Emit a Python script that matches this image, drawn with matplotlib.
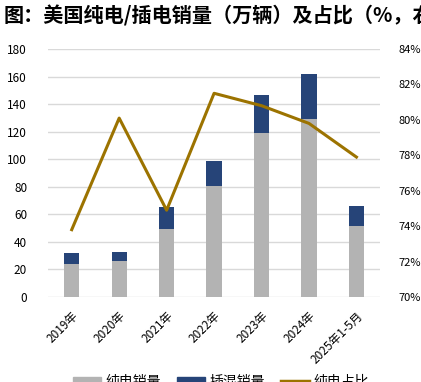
import matplotlib
matplotlib.use("Agg")
import matplotlib.pyplot as plt
import numpy as np
from matplotlib.patches import Patch
from matplotlib.lines import Line2D

plt.rcParams['font.family'] = ['Noto Sans CJK SC', 'DejaVu Sans']

categories = ["2019年", "2020年", "2021年", "2022年", "2023年", "2024年", "2025年1-5月"]
bev_sales = [24.0, 26.3, 49.3, 80.5, 118.8, 129.0, 51.8]
phev_sales = [8.2, 6.4, 16.2, 18.4, 28.0, 32.6, 14.5]
bev_share = [73.8, 80.1, 74.9, 81.5, 80.8, 79.8, 77.9]
left_ticks = [0, 20, 40, 60, 80, 100, 120, 140, 160, 180]
right_ticks = [70, 72, 74, 76, 78, 80, 82, 84]

GRAY = "#B3B3B3"
NAVY = "#264478"
GOLD = "#9C7300"

fig = plt.figure(figsize=(4.21, 3.82), dpi=100)
ax = fig.add_axes([0.114, 0.2225, 0.789, 0.6492])
x = np.arange(len(categories))
w = 0.32
ax.bar(x, bev_sales, width=w, color=GRAY, zorder=2)
ax.bar(x, phev_sales, width=w, bottom=bev_sales, color=NAVY, zorder=2)
ax.set_ylim(0, 180)
ax.set_xlim(-0.5, len(categories) - 0.5)
ax.set_yticks(left_ticks)
ax.grid(axis='y', color='#D9D9D9', linewidth=1.0, zorder=0)
ax.set_axisbelow(True)
for s in ax.spines.values():
    s.set_visible(False)
ax.tick_params(axis='both', length=0, labelsize=8.5, colors='black')
ax.tick_params(axis='y', pad=15)
ax.tick_params(axis='x', pad=9)
ax.set_xticks(x)
ax.set_xticklabels(categories, rotation=45, ha='right', rotation_mode='anchor', fontsize=8.5)

ax2 = ax.twinx()
ax2.plot(x, bev_share, color=GOLD, linewidth=2.2, zorder=3)
ax2.set_ylim(70, 84)
ax2.set_yticks(right_ticks)
ax2.set_yticklabels([f"{t}%" for t in right_ticks])
for s in ax2.spines.values():
    s.set_visible(False)
ax2.tick_params(axis='y', length=0, labelsize=8, pad=13)

fig.text(0.008, 0.985, "图：美国纯电/插电销量（万辆）及占比（%，右轴）", fontsize=14.5,
         fontweight='bold', ha='left', va='top')

handles = [Patch(color=GRAY, label="纯电销量"), Patch(color=NAVY, label="插混销量"),
           Line2D([0], [0], color=GOLD, linewidth=2.5, label="纯电占比")]
fig.legend(handles=handles, loc='center', bbox_to_anchor=(0.525, 0.0), ncol=3,
           frameon=False, fontsize=10, handlelength=2.0, handleheight=0.6,
           columnspacing=1.2, handletextpad=0.3)

fig.savefig("out.png", dpi=100)
